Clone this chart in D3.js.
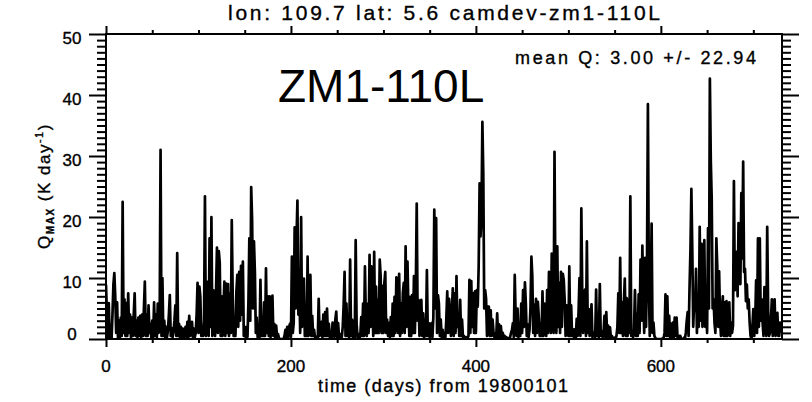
<!DOCTYPE html>
<html><head><meta charset="utf-8">
<script src="https://cdn.jsdelivr.net/npm/d3@7"></script>
<style>body{margin:0;background:#fff}text{font-family:"Liberation Sans",Arial,sans-serif;fill:#000;stroke:#000;stroke-width:0.35px}</style>
</head><body><svg id="c" width="812" height="402"></svg>
<script>
// Daily Q_MAX values (K/day), day 0 .. 730
const qmax = [
8.9,4,0.3,5.9,0.3,2,0,4,8.9,10.8,
7,1,6,0,3,0.3,3.5,0.5,22.5,1,
6.5,0.5,5.9,0.5,7.5,1,4,0.3,3.5,0.5,
4,7.5,0.5,3,0.3,3.5,0.5,3.8,0.3,4,
0.5,5,9.4,0.5,4,0.5,5.5,1,2.5,0.2,
3,0.3,6,0.5,4,0.3,5.8,1,2,31,
0.5,10,0.5,3,0.3,2,0.3,1.5,4,7.2,
0.5,1.8,0.3,1.2,3,5.5,0.5,14.1,0.5,2.5,
0.3,2,0.3,1.7,0.2,1,2,0.3,2.8,0.3,
3.8,0.5,2,2.8,0.2,1.7,0.3,1,4,9.2,
1,8.6,7,0.5,2,0.5,3,23.4,0.5,9.4,
6,0.5,16.5,2,20,0.5,8,6,0.5,8,
15,1,14.4,12.5,0.5,7,0.5,5,9.4,0.5,
9.1,1,9,0.5,7.5,1,19.5,7.2,0.5,3,
0.5,7.8,10.5,2,11,3,12,4,12.7,0.5,
2,0.3,2,0.3,6,16.5,3,24.9,19.5,5,
16,11,1,3.5,0.3,1,0.2,9.7,0.5,2,
0.5,6,0.5,11.6,1,7,0.5,7,0.3,4,
7.1,0.5,2.5,0.3,2.2,0.3,0.8,0.2,0,0,
0,0,0,0.5,1.5,0.3,2,0.3,2,2.5,
0.3,13.5,1,2.7,18.3,5,16.3,22.7,4,9,
1,20,2,6,9.9,0.5,2,0.5,13.5,0.5,
2,10.5,0.5,3.8,0.5,1.5,0.3,0.4,0,0,
6.6,0.5,1,2.8,0.3,4,0.5,4.4,0.5,5,
0.5,2.5,0.3,1,0.2,2.7,2.6,0.3,3.2,4.5,
0.3,2.6,0.3,0.8,0.2,0.3,2,5.6,11,0.5,
5.8,0.5,3.6,0.3,13,0.5,3.2,0.3,3,0.3,
16.2,2.5,0.3,0.8,0.2,0.5,3.6,0.5,5.8,0.5,
11.9,3.2,0.5,5.8,1,13.8,2,11.9,5.8,0.5,
14.3,1,8.6,1,6.4,1,13,10.3,1,8.7,
1,9.2,11,1,3.2,0.5,2.6,0.3,3.6,0.5,
5.8,0.5,6.9,1,10.1,7.2,1,10.7,0.5,5.8,
1,7.5,9.2,1,15.2,2,12.7,4.7,0.5,6.9,
0.5,7.2,1,10.3,1,8,22.2,3,6.4,0.5,
4.7,6.4,0.5,4.2,0.3,3.2,0.5,11.3,0.5,2.6,
0.3,0.5,2.6,0.3,3.6,21.2,5,19.8,1,7.2,
5.8,0.5,3.2,0.3,1.5,0.2,0.8,0.3,3.2,7.8,
1,6.6,3.5,0.5,4.7,8.3,0.5,7.5,1,10.3,
2,3.6,0.5,6.4,0.5,3.2,0.3,0.5,0.3,0,
0.3,0.2,0.5,9.7,1,9.5,2,7.5,1,7.8,
1,8,5.3,12,25.5,16.8,20,35.6,26.9,5,
8,6.6,0.5,5.3,5.3,0.5,4.7,0.5,3.2,1.2,
0.3,1,0.3,4.2,0.3,2.4,0.3,2.1,0.3,1,
0.3,0.5,0,0.3,0,0,0.2,0.3,1,1.5,
2.6,0.3,10.5,3.5,0.5,5,0.3,2.4,0.5,5.8,
1,8,2,9.3,5.8,0.5,2.4,0.3,1.5,5,
13.5,10.3,1,5.6,0.5,6.6,1,6.1,3.6,0.5,
2.6,0.5,7.8,0.5,5.8,4.7,0.5,8,1,11,
8,1,14,10.3,1,30.7,8,1,15.2,2,
9.2,1,11,2,10.7,9.7,6.4,0.5,5.5,1.9,
0.5,11.9,0.5,5.5,0.5,1.6,0.3,1.6,0.3,3.3,
0.5,4.4,10,0.5,21.4,7.6,1,6.5,8.1,0.5,
16,1,4.9,0.5,2,5.7,0.3,0.5,1.1,0.3,
8.1,0.5,3.5,0.3,9,0.5,1.3,0.3,1,3.8,
0.3,4.4,0.3,2.2,0.3,1.9,0.2,0.5,0.2,0,
0.2,0,0.5,2,7.5,1,13.3,1,6,0.5,
6,9.9,0.5,6.7,0.5,6.5,1,23.4,0.5,1.1,
0.3,1.6,8,0.5,4.1,0.5,7.3,1,13,3,
15.3,7.3,1,13.3,2,11.9,38.5,9.1,0.5,6,
18.9,1,2.7,0.5,0.2,0,0,0,0,0,
0,0,0.1,0.2,1,7.3,0.5,7,0.5,3.8,
0.3,2.5,0.3,2.7,0.3,3.5,0.5,3.5,0.3,0.2,
0.5,0.5,0,0,0,0.2,0,1,3,4.4,
0.5,8.3,14.6,24.6,14.6,2,6,4.6,11.5,1,
7,2,18.4,3,15.6,2,10.7,16.2,2,6,
1,18.2,5,42.7,29.3,22.9,5,6.5,2.7,1,
16.5,11.9,2,11.1,3.3,0.5,4.9,7,0.5,6,
0.5,6.2,0.5,2.2,6,0.5,2.7,1,2.2,25.9,
8,12.8,14.3,7,19,15.6,9,23.9,13.2,29.1,
11,11.5,6.2,8.9,5,6.5,2.7,0.5,0,2,
4.9,0.5,2.7,9.6,1,16.5,2,16.5,3,6.5,
2.7,0.5,8.5,6,0.5,18.4,4.9,0.5,1,2.7,
6.5,0.5,4.6,6.5,0.5,1.9,4.3,0.5,0.5,2.7,1
];
const xMajorTicks = [0, 200, 400, 600];
const yMajorTicks = [0, 10, 20, 30, 40, 50];
const xDomain = [0, 731];
const yDomain = [0, 50];
const titleText = "lon: 109.7 lat: 5.6 camdev-zm1-110L";
const runLabel = "ZM1-110L";
const statText = "mean Q: 3.00 +/- 22.94";
const xTitle = "time (days) from 19800101";

const svg = d3.select('#c');
const L = 106, R = 782, T = 34, B = 339;
const x = d3.scaleLinear().domain(xDomain).range([L, R]);
const y = d3.scaleLinear().domain(yDomain).range([B, T]);

const xMinor = d3.range(0, 731, 50).filter(v => !xMajorTicks.includes(v));
const yMinor = d3.range(0, 51, 1).filter(v => !yMajorTicks.includes(v));

function styleAxis(g) {
  g.select('.domain').remove();
  g.selectAll('line').attr('stroke', '#000').attr('stroke-width', 2);
  g.selectAll('text').remove();
}
svg.append('g').attr('transform', `translate(${L},0)`).call(d3.axisLeft(y).tickValues(yMinor).tickSize(9)).call(styleAxis);
svg.append('g').attr('transform', `translate(${L},0)`).call(d3.axisLeft(y).tickValues(yMajorTicks).tickSize(17)).call(styleAxis);
svg.append('g').attr('transform', `translate(${R},0)`).call(d3.axisRight(y).tickValues(yMinor).tickSize(9)).call(styleAxis);
svg.append('g').attr('transform', `translate(${R},0)`).call(d3.axisRight(y).tickValues(yMajorTicks).tickSize(17)).call(styleAxis);
svg.append('g').attr('transform', `translate(0,${B})`).call(d3.axisBottom(x).tickValues(xMinor).tickSize(4)).call(styleAxis);
svg.append('g').attr('transform', `translate(0,${B})`).call(d3.axisBottom(x).tickValues(xMajorTicks).tickSize(8)).call(styleAxis);
svg.append('g').attr('transform', `translate(0,${T})`).call(d3.axisTop(x).tickValues(xMinor).tickSize(4)).call(styleAxis);
svg.append('g').attr('transform', `translate(0,${T})`).call(d3.axisTop(x).tickValues(xMajorTicks).tickSize(8)).call(styleAxis);

svg.append('clipPath').attr('id', 'pc').append('rect').attr('x', L).attr('y', T).attr('width', R - L).attr('height', B - T);
const line = d3.line().x((d, i) => x(i)).y(d => y(d));
svg.append('path').datum(qmax).attr('clip-path', 'url(#pc)')
  .attr('d', line).attr('fill', 'none').attr('stroke', '#000')
  .attr('stroke-width', 2.7).attr('stroke-linejoin', 'round');

svg.append('rect').attr('x', L).attr('y', T).attr('width', R - L).attr('height', B - T)
  .attr('fill', 'none').attr('stroke', '#000').attr('stroke-width', 2);

svg.selectAll('.yl').data(yMajorTicks).enter().append('text')
  .attr('x', 72).attr('y', d => d === 0 ? y(d) + 1 : y(d) + 10)
  .attr('text-anchor', 'middle').attr('font-size', 17).text(d => d);
svg.selectAll('.xl').data(xMajorTicks).enter().append('text')
  .attr('x', d => x(d)).attr('y', 372)
  .attr('text-anchor', 'middle').attr('font-size', 17).text(d => d);

svg.append('text').attr('x', 228).attr('y', 20).attr('font-size', 21)
  .attr('textLength', 432).attr('lengthAdjust', 'spacing').text(titleText);
svg.append('text').attr('x', 318).attr('y', 392).attr('font-size', 18)
  .attr('textLength', 250).attr('lengthAdjust', 'spacing').text(xTitle);
svg.append('text').attr('x', 278).attr('y', 102).attr('font-size', 46)
  .style('stroke-width', '0px').text(runLabel);
svg.append('text').attr('x', 515).attr('y', 64).attr('font-size', 18)
  .attr('textLength', 241).attr('lengthAdjust', 'spacing').text(statText);

const yt = svg.append('text').attr('transform', 'translate(50,186) rotate(-90)')
  .attr('text-anchor', 'middle').attr('font-size', 17).attr('letter-spacing', 1.5);
yt.append('tspan').text('Q');
yt.append('tspan').attr('font-size', 10).attr('dy', 4).attr('font-weight', 'bold').text('MAX');
yt.append('tspan').attr('dy', -4).text(' (K day');
yt.append('tspan').attr('font-size', 11).attr('dy', -7).text('-1');
yt.append('tspan').attr('dy', 7).text(')');
</script></body></html>
